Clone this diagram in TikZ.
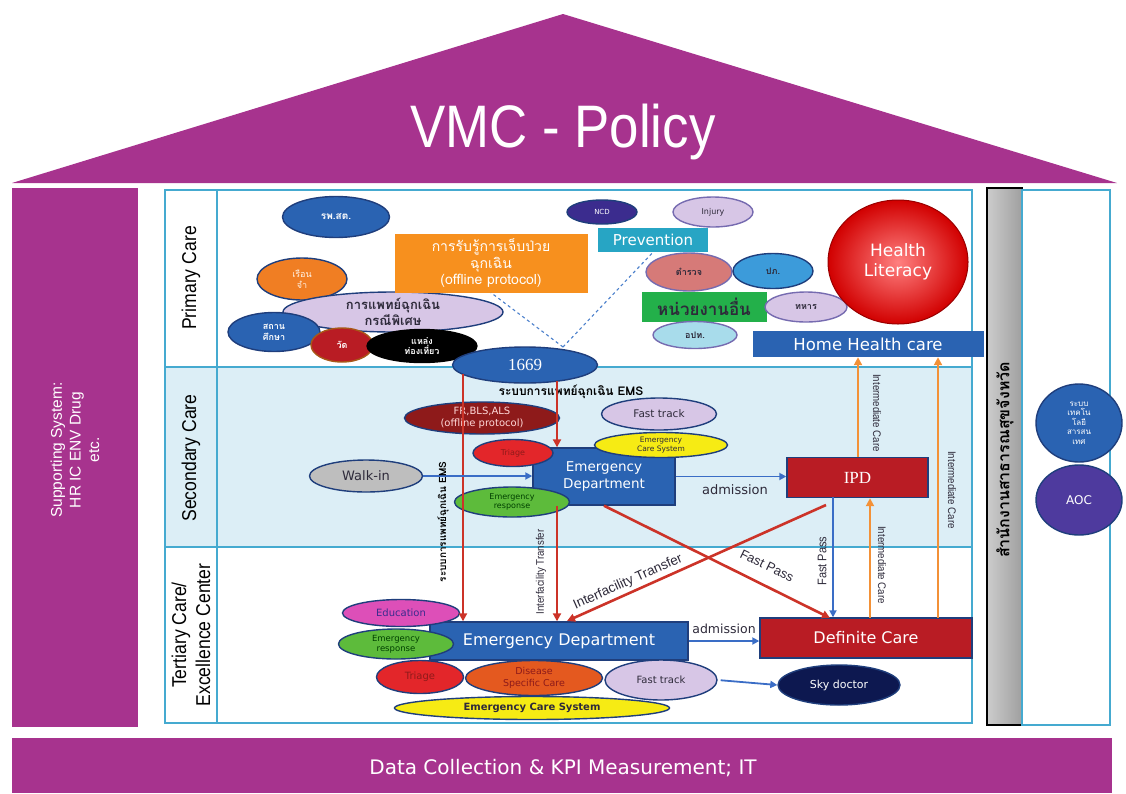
\documentclass[tikz,border=0pt]{standalone}
\usepackage{fontspec}
\setmainfont{DejaVu Sans}
\newfontfamily\thaifont[Script=Thai]{Loma}
\newfontfamily\arialfont{Liberation Sans}
\newfontfamily\narrowfont[FakeStretch=0.88]{Liberation Sans}
\newfontfamily\seriffont{Liberation Serif}
\usepackage{tikz}
\usetikzlibrary{shapes.geometric,arrows.meta}

\newcommand{\fsz}[1]{\fontsize{#1}{\fpeval{1.2*#1}}\selectfont}

\definecolor{vmcpurple}{HTML}{A7338E}
\definecolor{frameblue}{HTML}{45AAD0}
\definecolor{rowfill}{HTML}{DCEEF6}
\definecolor{navyline}{HTML}{1F3E7C}
\definecolor{shapeblue}{HTML}{2A63B2}
\definecolor{ovorange}{HTML}{F07E23}
\definecolor{boxorange}{HTML}{F7901E}
\definecolor{lavender}{HTML}{D7C6E6}
\definecolor{ovred}{HTML}{E3262A}
\definecolor{darkred}{HTML}{8E1A1A}
\definecolor{boxred}{HTML}{B91C24}
\definecolor{ovgreen}{HTML}{5DBB3B}
\definecolor{ovyellow}{HTML}{F6EB14}
\definecolor{ovgrey}{HTML}{BEBEBE}
\definecolor{ovmagenta}{HTML}{DD4FB8}
\definecolor{ovorred}{HTML}{E4591F}
\definecolor{skynavy}{HTML}{0D1850}
\definecolor{ncdpurple}{HTML}{3B2C8E}
\definecolor{prevcyan}{HTML}{27A5C4}
\definecolor{police}{HTML}{D67A78}
\definecolor{ppblue}{HTML}{3C9BDA}
\definecolor{boxgreen}{HTML}{23B04A}
\definecolor{optcyan}{HTML}{A8DCEB}
\definecolor{aocpurple}{HTML}{4E3A9E}
\definecolor{arrred}{HTML}{CC3328}
\definecolor{arrblue}{HTML}{3A6DC6}
\definecolor{arrorange}{HTML}{F39137}
\definecolor{dashblue}{HTML}{4A7FCB}
\definecolor{inktext}{HTML}{2E2A3A}

\tikzset{
  oval/.style={ellipse, draw=navyline, line width=1.4pt, inner sep=0pt, align=center},
  box/.style={rectangle, draw=navyline, line width=1.4pt, inner sep=0pt, align=center},
  redarr/.style={draw=arrred, line width=2.6pt, -{Triangle[length=8pt,width=8pt]}},
  bluearr/.style={draw=arrblue, line width=1.8pt, -{Triangle[length=7pt,width=7pt]}},
  orgarr/.style={draw=arrorange, line width=2.6pt, -{Triangle[length=8pt,width=8pt]}},
  dashline/.style={draw=dashblue, line width=1.1pt, dashed},
  rowlabel/.style={rotate=90, align=center, font=\narrowfont\fsz{20}},
  arrlabel/.style={font=\narrowfont\fsz{11}, text=inktext}
}

\begin{document}
\begin{tikzpicture}[x=1pt,y=-1pt]
\useasboundingbox (0,0) rectangle (1126,793);

\fill[vmcpurple] (12,183) -- (563,14) -- (1117,183) -- cycle;
\node[text=white, font=\narrowfont\fsz{60}] (title) at (563,132) {VMC - Policy};
\fill[vmcpurple] (12,188) rectangle (138,727);
\node[rotate=90, align=center, text=white, font=\arialfont\fsz{15.5}] (support) at (75,450) {Supporting System:\\HR IC ENV Drug\\etc.};
\fill[vmcpurple] (12,738) rectangle (1112,793);
\node[text=white, font=\fsz{20}] (kpi) at (563,768) {Data Collection \& KPI Measurement; IT};

\fill[rowfill] (165,367) rectangle (972,547);
\draw[frameblue, line width=1.5pt] (165,190) rectangle (972,723);
\draw[frameblue, line width=1.5pt] (217,190) -- (217,723);
\draw[frameblue, line width=1.5pt] (165,367) -- (972,367) (165,547) -- (972,547);
\shade[left color=gray!40, middle color=white, right color=gray!75] (987,188) rectangle (1022,725);
\draw[black, line width=1.2pt] (987,188) rectangle (1022,725);
\draw[frameblue, line width=1.5pt] (1022,190) rectangle (1110,725);

\node[rowlabel] (primary) at (191,278) {Primary Care};
\node[rowlabel] (secondary) at (191,458) {Secondary Care};
\node[rowlabel] (tertiary) at (191,635) {Tertiary Care/\\Excellence Center};

\node[rotate=90, font=\thaifont\bfseries\fsz{16}] (pho) at (1005,460) {สำนักงานสาธารณสุขจังหวัด};
\node[oval, fill=shapeblue, text=white, minimum width=86pt, minimum height=78pt, font=\thaifont\fsz{8}] (itsys) at (1079,423) {ระบบ\\เทคโน\\โลยี\\สารสน\\เทศ};
\node[oval, fill=aocpurple, text=white, minimum width=86pt, minimum height=70pt, font=\fsz{12}] (aoc) at (1079,500) {AOC};

\node[oval, fill=shapeblue, text=white, minimum width=107pt, minimum height=41pt, font=\thaifont\bfseries\fsz{10}] (rpsat) at (336,217) {รพ.สต.};
\node[oval, fill=ovorange, text=white!90!orange, minimum width=90pt, minimum height=42pt, font=\thaifont\fsz{9}] (prison) at (302,279) {เรือน\\จำ};
\node[oval, fill=lavender, text=inktext, minimum width=220pt, minimum height=40pt, font=\thaifont\bfseries\fsz{13}] (special) at (393,312) {การแพทย์ฉุกเฉิน\\กรณีพิเศษ};
\node[oval, fill=shapeblue, text=white, minimum width=92pt, minimum height=39pt, font=\thaifont\bfseries\fsz{9}] (school) at (274,332) {สถาน\\ศึกษา};
\node[oval, draw=ovorange!70!black, fill=boxred, text=white, minimum width=62pt, minimum height=34pt, font=\thaifont\bfseries\fsz{9}] (temple) at (342,345) {วัด};
\node[oval, draw=black, fill=black, text=white, minimum width=110pt, minimum height=33pt, font=\thaifont\bfseries\fsz{9}] (tourist) at (422,346) {แหล่ง\\ท่องเที่ยว};

\node[rectangle, fill=boxorange, text=white, minimum width=193pt, minimum height=59pt, align=center, font=\thaifont\fsz{14}] (aware) at (491,263) {การรับรู้การเจ็บป่วย\\ฉุกเฉิน\\(offline protocol)};
\node[oval, fill=ncdpurple, text=white, minimum width=70pt, minimum height=24pt, font=\fsz{7}] (ncd) at (602,212) {NCD};
\node[oval, draw=ncdpurple!70, fill=lavender, text=inktext, minimum width=80pt, minimum height=30pt, font=\fsz{8}] (injury) at (713,212) {Injury};
\node[rectangle, fill=prevcyan, text=white, minimum width=110pt, minimum height=24pt, font=\fsz{15}] (prevent) at (653,240) {Prevention};
\node[oval, draw=ncdpurple!70, fill=police, text=inktext, minimum width=86pt, minimum height=38pt, font=\thaifont\bfseries\fsz{9}] (police) at (689,272) {ตำรวจ};
\node[oval, fill=ppblue, text=inktext, minimum width=80pt, minimum height=35pt, font=\thaifont\bfseries\fsz{9}] (disaster) at (773,271) {ปภ.};
\node[rectangle, fill=boxgreen, text=inktext, minimum width=125pt, minimum height=30pt, font=\thaifont\bfseries\fsz{17}] (others) at (704,307) {หน่วยงานอื่น};
\node[oval, draw=ncdpurple!70, fill=lavender, text=inktext, minimum width=82pt, minimum height=30pt, font=\thaifont\bfseries\fsz{9}] (soldier) at (806,307) {ทหาร};
\node[oval, draw=ncdpurple!70, fill=optcyan, text=inktext, minimum width=84pt, minimum height=27pt, font=\thaifont\bfseries\fsz{9}] (localgov) at (695,335) {อปท.};
\node[ellipse, draw=red!60!black, line width=1pt, inner color=red!50!white, outer color=red!82!black, text=white, align=center, minimum width=140pt, minimum height=124pt, font=\fsz{17}] (literacy) at (898,262) {Health\\Literacy};
\node[rectangle, fill=shapeblue, text=white, minimum width=231pt, minimum height=26pt, font=\fsz{16.5}] (homecare) at (868,344) {Home Health care};

\coordinate (dashtop) at (563,347);
\draw[dashline] (dashtop) -- (aware.south);
\draw[dashline] (dashtop) -- (prevent.south);
\node[oval, fill=shapeblue, text=white, minimum width=145pt, minimum height=36pt, font=\seriffont\fsz{17}] (hotline) at (525,365) {1669};

\node[font=\thaifont\bfseries\fsz{12}] (emstext) at (571,392) {ระบบการแพทย์ฉุกเฉิน EMS};
\node[oval, fill=darkred, text=white!85!red, minimum width=155pt, minimum height=32pt, font=\fsz{10}] (frbls) at (482,418) {FR,BLS,ALS\\(offline protocol)};
\node[oval, fill=lavender, text=inktext, minimum width=115pt, minimum height=32pt, font=\fsz{10.5}] (fast1) at (659,414) {Fast track};
\node[box, fill=shapeblue, text=white, minimum width=142pt, minimum height=57pt, font=\fsz{13.5}] (ed1) at (604,476.5) {Emergency\\Department};
\node[oval, fill=ovyellow, text=inktext, minimum width=133pt, minimum height=25pt, font=\fsz{7.5}] (ecs1) at (661,445) {Emergency\\Care System};
\node[oval, fill=ovred, text=darkred, minimum width=80pt, minimum height=27pt, font=\fsz{8}] (triage1) at (513,453) {Triage};
\node[oval, fill=ovgreen, text=green!25!black, minimum width=115pt, minimum height=30pt, font=\fsz{8}] (resp1) at (512,502) {Emergency\\response};
\node[oval, fill=ovgrey, text=inktext, minimum width=113pt, minimum height=32pt, font=\fsz{13}] (walkin) at (366,476) {Walk-in};
\node[box, fill=boxred, text=white, minimum width=141pt, minimum height=40pt, font=\seriffont\fsz{17}] (ipd) at (857.5,477.5) {IPD};

\node[box, fill=shapeblue, text=white, minimum width=258pt, minimum height=38pt, font=\fsz{16}] (ed2) at (559,641) {Emergency Department};
\node[oval, fill=ovmagenta, text=ncdpurple, minimum width=117pt, minimum height=27pt, font=\fsz{10}] (educ) at (401,613) {Education};
\node[oval, fill=ovgreen, text=green!25!black, minimum width=115pt, minimum height=30pt, font=\fsz{8.5}] (resp2) at (396,644) {Emergency\\response};
\node[oval, fill=ovred, text=darkred, minimum width=87pt, minimum height=33pt, font=\fsz{10}] (triage2) at (420,677) {Triage};
\node[oval, fill=ovorred, text=darkred, minimum width=137pt, minimum height=35pt, font=\fsz{9.5}] (disease) at (534,678) {Disease\\Specific Care};
\node[oval, fill=lavender, text=inktext, minimum width=112pt, minimum height=40pt, font=\fsz{10}] (fast2) at (661,680) {Fast track};
\node[oval, fill=ovyellow, text=inktext, minimum width=275pt, minimum height=23pt, font=\bfseries\fsz{10}] (ecs2) at (532,708) {Emergency Care System};
\node[oval, fill=skynavy, text=white, minimum width=122pt, minimum height=40pt, font=\fsz{11}] (sky) at (839,685) {Sky doctor};
\node[box, fill=boxred, text=white, minimum width=212pt, minimum height=40pt, font=\fsz{16}] (defcare) at (866,638) {Definite Care};

\coordinate (emsA) at (463,374);
\coordinate (emsB) at (557,381);
\coordinate (fpEnd) at (830,618);
\coordinate (itStart) at (826,505);
\coordinate (itEnd) at (567,621);
\coordinate (fpx) at (833,497);
\coordinate (ic1) at (858,457);
\coordinate (ic2) at (870,618);
\coordinate (ic3) at (938,618);

\draw[redarr] (emsA) -- (emsA |- ed2.north);
\draw[redarr] (emsB) -- (emsB |- ed1.north);
\draw[redarr] (emsB |- ed1.south) -- (emsB |- ed2.north);
\draw[redarr] (ed1.south) -- (fpEnd);
\draw[redarr] (itStart) -- (itEnd);
\draw[bluearr] (walkin.east) -- (walkin.east -| ed1.west);
\draw[bluearr] (ed1.east) -- (ed1.east -| ipd.west);
\draw[bluearr] (ed2.east) -- (ed2.east -| defcare.west);
\draw[bluearr, shorten <=3pt] (fast2.east) -- (sky.west);
\draw[bluearr] (fpx) -- (fpx |- defcare.north);
\draw[orgarr] (ic1) -- (ic1 |- homecare.south);
\draw[orgarr] (ic2) -- (ic2 |- ipd.south);
\draw[orgarr] (ic3) -- (ic3 |- homecare.south);

\node[rotate=90, font=\thaifont\bfseries\fsz{10}] (emsvert) at (443,522) {ระบบการแพทย์ฉุกเฉิน EMS};
\node[rotate=90, arrlabel] (itvert) at (541,572) {Interfacility Transfer};
\node[font=\fsz{13}, text=inktext] (admit1) at (735,490) {admission};
\node[font=\fsz{12.5}, text=inktext] (admit2) at (724,629) {admission};
\node[rotate=-26, font=\arialfont\fsz{13}, text=inktext] (fptext) at (767,566) {Fast Pass};
\node[rotate=24, font=\arialfont\fsz{13.5}, text=inktext] (ittext) at (628,582) {Interfacility Transfer};
\node[rotate=90, font=\narrowfont\fsz{12.5}, text=inktext] (fpvert) at (822,561) {Fast Pass};
\node[rotate=-90, arrlabel] (icA) at (877,413) {Intermediate Care};
\node[rotate=-90, arrlabel] (icB) at (882,565) {Intermediate Care};
\node[rotate=-90, arrlabel] (icC) at (952,490) {Intermediate Care};
\end{tikzpicture}
\end{document}
